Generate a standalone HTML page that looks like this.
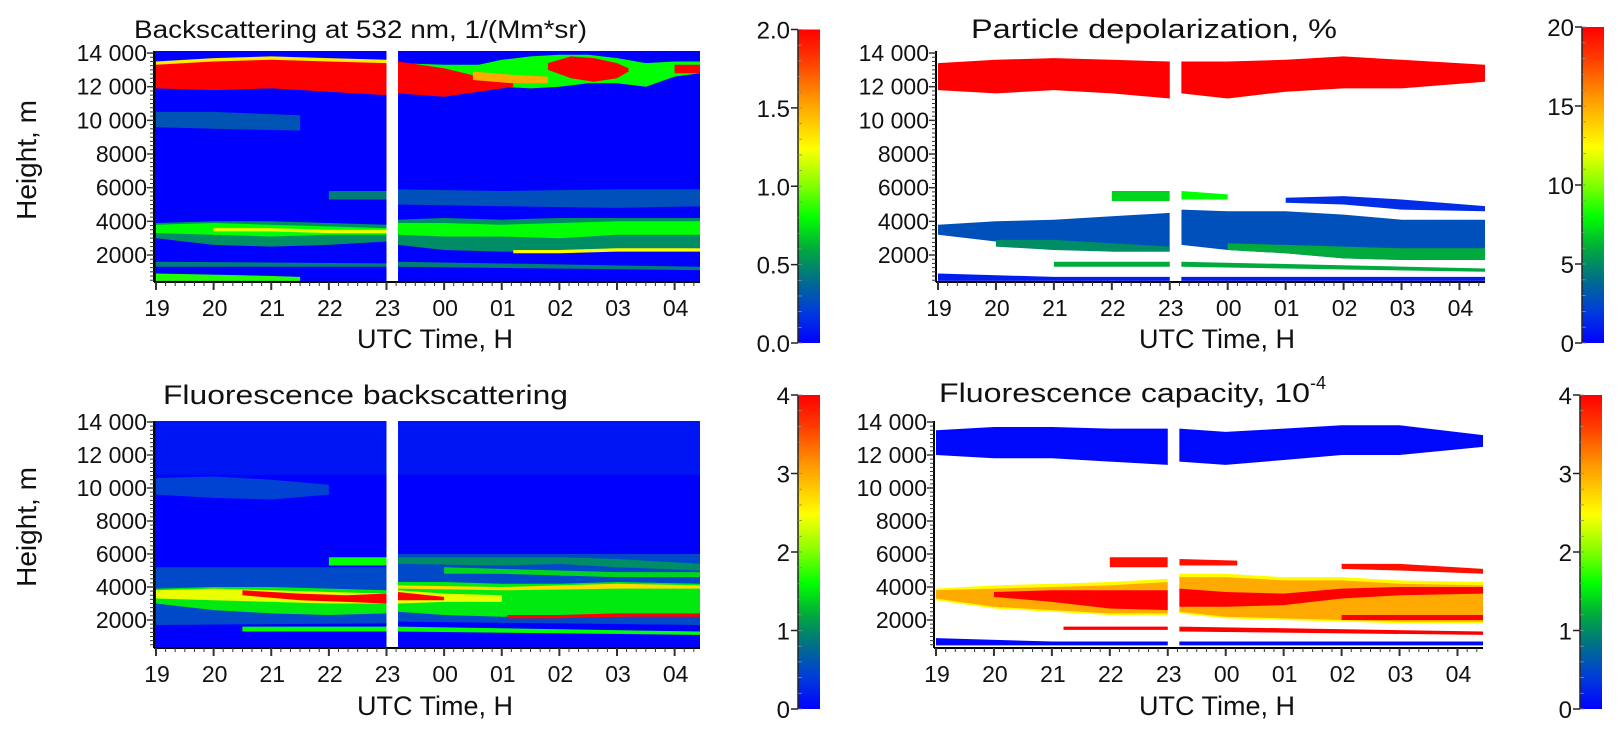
<!DOCTYPE html>
<html><head><meta charset="utf-8"><title>Lidar panels</title>
<style>
html,body{margin:0;padding:0;background:#fff;}
svg{display:block;font-family:"Liberation Sans",Arial,sans-serif;}
text{fill:#111;}
</style></head>
<body>
<svg id="fig" width="1619" height="737" viewBox="0 0 1619 737" xmlns="http://www.w3.org/2000/svg">
<defs id="defs"></defs>
<g id="root"></g>
<text x="134" y="38" font-size="25" textLength="453" lengthAdjust="spacingAndGlyphs">Backscattering at 532 nm, 1/(Mm*sr)</text>
<text x="971" y="38" font-size="27" textLength="366" lengthAdjust="spacingAndGlyphs">Particle depolarization, %</text>
<text x="163" y="404" font-size="27" textLength="405" lengthAdjust="spacingAndGlyphs">Fluorescence backscattering</text>
<text x="939" y="402" font-size="27"><tspan textLength="371" lengthAdjust="spacingAndGlyphs">Fluorescence capacity, 10</tspan><tspan font-size="18" dy="-13">-4</tspan></text>
<text transform="translate(36,160) rotate(-90)" text-anchor="middle" font-size="28">Height, m</text>
<text transform="translate(36,527) rotate(-90)" text-anchor="middle" font-size="28">Height, m</text>
<text x="435" y="348" text-anchor="middle" font-size="27">UTC Time, H</text>
<text x="1217" y="348" text-anchor="middle" font-size="27">UTC Time, H</text>
<text x="435" y="715" text-anchor="middle" font-size="27">UTC Time, H</text>
<text x="1217" y="715" text-anchor="middle" font-size="27">UTC Time, H</text>
</svg>
<script>
// ---------- data ----------
const xTickLabels = ["19","20","21","22","23","00","01","02","03","04"];
const yTickValues = [2000,4000,6000,8000,10000,12000,14000];
const yTickLabels = ["2000","4000","6000","8000","10 000","12 000","14 000"];
const cbLabels1 = ["0.0","0.5","1.0","1.5","2.0"];
const cbValues1 = [0,0.5,1,1.5,2];
const cbLabels2 = ["0","5","10","15","20"];
const cbValues2 = [0,5,10,15,20];
const cbLabels34 = ["0","1","2","3","4"];
const cbValues34 = [0,1,2,3,4];
const gapStart = 4.0, gapEnd = 4.2; // hours after 19 UTC

// layers: time (h after 19 UTC), top/bottom height (km), value
const backscatterLayers = [
 {t:[0,1,2.5],hi:[10.5,10.5,10.3],lo:[9.6,9.5,9.4],v:0.3},
 {t:[4.2,5,5.6,6,6.5,7,7.5,8,8.5,9,9.45],hi:[13.4,13.3,13.3,13.6,13.8,13.9,13.9,13.7,13.4,13.5,13.5],lo:[12.6,12.2,12.0,12.0,11.9,12.0,12.2,12.2,12.0,12.6,12.8],v:0.8},
 {t:[0,1,2,3,4,4.2,5,5.6,6.2],hi:[13.4,13.6,13.7,13.6,13.5,13.5,13.1,12.6,12.3],lo:[11.9,11.8,11.9,11.7,11.5,11.6,11.4,11.7,12.0],v:2},
 {t:[0,1,2,3,4],hi:[13.5,13.7,13.8,13.7,13.6],lo:[13.3,13.5,13.6,13.5,13.4],v:1.3},
 {t:[6.8,7.2,7.6,8.0,8.2],hi:[13.4,13.8,13.7,13.4,13.1],lo:[13.0,12.5,12.3,12.5,12.9],v:2},
 {t:[5.5,6.2,6.8],hi:[12.9,12.7,12.6],lo:[12.4,12.2,12.2],v:1.5},
 {t:[9.0,9.45],hi:[13.3,13.3],lo:[12.8,12.8],v:2},
 {t:[3.0,4.0],hi:[5.8,5.8],lo:[5.3,5.3],v:0.45},
 {t:[4.2,6,8,9.45],hi:[5.9,5.8,5.9,5.9],lo:[5.0,4.9,4.8,4.9],v:0.28},
 {t:[0,1,2,3,4,4.2,5,6,7,8,9.45],hi:[3.9,4.0,4.0,3.9,3.8,4.1,4.2,4.1,4.2,4.2,4.2],lo:[3.0,2.6,2.5,2.6,2.8,2.6,2.3,2.2,2.2,2.3,2.4],v:0.5},
 {t:[0,1,2,3,4,4.2,5,6,7,8,9.45],hi:[3.8,3.9,3.8,3.7,3.6,3.9,3.9,3.8,3.9,4.0,4.0],lo:[3.3,3.2,3.1,3.2,3.2,3.2,3.1,3.1,3.0,3.2,3.2],v:0.8},
 {t:[1,2,3,4],hi:[3.6,3.6,3.5,3.5],lo:[3.4,3.4,3.3,3.3],v:1.2},
 {t:[6.2,7,8,9.45],hi:[2.3,2.3,2.4,2.4],lo:[2.1,2.1,2.2,2.2],v:1.25},
 {t:[0,4,4.2,9.45],hi:[1.6,1.5,1.6,1.3],lo:[1.3,1.3,1.3,1.1],v:0.45},
 {t:[0,1.5,2.5],hi:[0.9,0.8,0.7],lo:[0.46,0.46,0.46],v:0.85}
];
const depolLayers = [
 {t:[0,1,2,3,4,4.2,5,6,7,8,9.45],hi:[13.4,13.6,13.7,13.6,13.5,13.5,13.5,13.6,13.8,13.6,13.3],lo:[11.8,11.6,11.8,11.6,11.3,11.6,11.3,11.7,11.9,11.9,12.3],v:20},
 {t:[3.0,4.0],hi:[5.8,5.8],lo:[5.2,5.2],v:7},
 {t:[4.2,5.0],hi:[5.8,5.6],lo:[5.3,5.3],v:8},
 {t:[6.0,7.0,8.0,9.45],hi:[5.4,5.5,5.3,4.9],lo:[5.1,5.0,4.7,4.6],v:1.5},
 {t:[0,1,2,3,4],hi:[3.8,4.0,4.1,4.3,4.5],lo:[3.2,2.8,2.5,2.2,2.2],v:2.8},
 {t:[1,2,3,4],hi:[2.9,2.9,2.7,2.5],lo:[2.5,2.3,2.2,2.2],v:5},
 {t:[4.2,5,6,7,8,9.45],hi:[4.7,4.6,4.6,4.4,4.1,4.1],lo:[2.6,2.3,2.1,1.8,1.7,1.7],v:2.8},
 {t:[5,6,7,8,9.45],hi:[2.7,2.6,2.5,2.4,2.4],lo:[2.3,2.1,1.8,1.7,1.7],v:6},
 {t:[2,4,4.2,9.45],hi:[1.6,1.6,1.6,1.2],lo:[1.3,1.3,1.3,1.0],v:6},
 {t:[0,2,4,4.2,9.45],hi:[0.9,0.7,0.7,0.7,0.7],lo:[0.46,0.46,0.46,0.46,0.46],v:1}
];
const fluoBackLayers = [
 {t:[0,9.45],hi:[14.1,14.1],lo:[10.8,10.8],v:0.14},
 {t:[0,1,2,3],hi:[10.6,10.7,10.5,10.2],lo:[9.6,9.4,9.3,9.6],v:0.45},
 {t:[0,4,4.2,9.45],hi:[5.2,5.2,6.0,6.0],lo:[1.7,1.8,1.9,1.7],v:0.5},
 {t:[3.0,4.0],hi:[5.8,5.8],lo:[5.3,5.3],v:1.6},
 {t:[4.2,6,7,8,9.45],hi:[5.8,5.8,5.8,5.7,5.4],lo:[5.4,5.3,5.4,5.2,5.0],v:1.0},
 {t:[5,6,7,8,9.45],hi:[5.2,5.1,5.0,4.9,4.9],lo:[4.8,4.8,4.7,4.6,4.6],v:1.4},
 {t:[0,1,2,3,4,4.2,5,6,7,8,9.45],hi:[3.9,4.0,4.0,3.9,3.8,4.3,4.3,4.2,4.2,4.3,4.2],lo:[3.0,2.6,2.4,2.3,2.4,2.5,2.3,2.2,2.2,2.2,2.3],v:1.5},
 {t:[0,1,2,3,4,4.2,5,6],hi:[3.8,3.9,3.8,3.7,3.6,3.8,3.6,3.5],lo:[3.3,3.2,3.1,3.0,3.0,3.0,3.1,3.1],v:2.4},
 {t:[1.5,2.5,3.3,4.0,4.2,5.0],hi:[3.8,3.6,3.5,3.6,3.7,3.4],lo:[3.5,3.2,3.1,3.0,3.2,3.2],v:4},
 {t:[4.2,6,8,9.45],hi:[4.1,4.0,4.2,4.1],lo:[3.9,3.8,3.9,3.9],v:2.7},
 {t:[6.1,7,8,9.45],hi:[2.3,2.3,2.4,2.4],lo:[2.1,2.1,2.2,2.2],v:4},
 {t:[1.5,4,4.2,9.45],hi:[1.6,1.6,1.6,1.3],lo:[1.3,1.3,1.3,1.1],v:1.6}
];
const fluoCapLayers = [
 {t:[0,1,2,3,4,4.2,5,6,7,8,9.45],hi:[13.5,13.7,13.7,13.6,13.6,13.6,13.4,13.6,13.8,13.8,13.2],lo:[12.0,11.8,11.8,11.6,11.4,11.6,11.4,11.7,12.0,12.0,12.5],v:0.05},
 {t:[3.0,4.0],hi:[5.8,5.8],lo:[5.2,5.2],v:3.9},
 {t:[4.2,5.2],hi:[5.7,5.6],lo:[5.3,5.3],v:3.9},
 {t:[7.0,8.0,9.45],hi:[5.4,5.4,5.1],lo:[5.1,5.0,4.8],v:3.9},
 {t:[0,1,2,3,4,4.2,5,6,7,8,9.45],hi:[3.9,4.1,4.2,4.3,4.5,4.8,4.8,4.6,4.6,4.4,4.3],lo:[3.2,2.7,2.5,2.3,2.3,2.4,2.1,2.0,1.9,1.8,1.8],v:2.5},
 {t:[0,1,2,3,4,4.2,5,6,7,8,9.45],hi:[3.8,3.9,4.0,4.1,4.3,4.6,4.6,4.4,4.4,4.2,4.1],lo:[3.3,2.8,2.6,2.4,2.4,2.5,2.2,2.1,2.0,1.9,1.9],v:3.0},
 {t:[1,2,3,4,4.2,5,6,7,8,9.45],hi:[3.7,3.8,3.8,3.8,3.9,3.7,3.6,3.9,4.0,4.0],lo:[3.4,3.1,2.7,2.6,2.8,2.8,2.9,3.3,3.5,3.6],v:4},
 {t:[7,8,9.45],hi:[2.3,2.3,2.3],lo:[2.0,2.0,2.0],v:4},
 {t:[2.2,4,4.2,9.45],hi:[1.6,1.6,1.6,1.3],lo:[1.4,1.4,1.3,1.1],v:4},
 {t:[0,2,4,4.2,9.45],hi:[0.9,0.7,0.7,0.7,0.7],lo:[0.46,0.46,0.46,0.46,0.46],v:0.05}
];

// ---------- rendering ----------
const NS = "http://www.w3.org/2000/svg";
const root = document.getElementById("root");
const defs = document.getElementById("defs");
const cstops = [[0,0,0,255],[0.1,0,60,220],[0.2,0,110,140],[0.3,0,170,60],[0.4,0,255,0],[0.5,130,255,0],[0.62,255,255,0],[0.78,255,150,0],[0.9,255,60,0],[1,255,0,0]];
function cmap(f){
  f=Math.max(0,Math.min(1,f));
  for(let i=1;i<cstops.length;i++){
    if(f<=cstops[i][0]){
      const a=cstops[i-1],b=cstops[i],k=(f-a[0])/(b[0]-a[0]);
      return `rgb(${Math.round(a[1]+(b[1]-a[1])*k)},${Math.round(a[2]+(b[2]-a[2])*k)},${Math.round(a[3]+(b[3]-a[3])*k)})`;
    }
  }
  return "rgb(255,0,0)";
}
function mk(tag,attrs,parent){
  const e=document.createElementNS(NS,tag);
  for(const k in attrs) e.setAttribute(k,attrs[k]);
  (parent||root).appendChild(e);
  return e;
}
const grad=mk("linearGradient",{id:"cbgrad",x1:"0",y1:"1",x2:"0",y2:"0"},defs);
cstops.forEach(s=>mk("stop",{offset:s[0],"stop-color":cmap(s[0])},grad));

const panels=[
 {name:"backscattering",left:154,right:700,top:51,bottom:281,y2k:255,pxkm:16.83,bg:"#0000ff",layers:backscatterLayers,vmax:2,cb:{x:798,top:29.5,bottom:343,labels:cbLabels1,values:cbValues1,minor:0.1}},
 {name:"depolarization",left:936,right:1485,top:51,bottom:281,y2k:255,pxkm:16.83,bg:"#ffffff",layers:depolLayers,vmax:20,cb:{x:1582,top:27,bottom:343,labels:cbLabels2,values:cbValues2,minor:1}},
 {name:"fluorescence-backscattering",left:154,right:700,top:421,bottom:647,y2k:620,pxkm:16.5,bg:"#0000ff",layers:fluoBackLayers,vmax:4,cb:{x:798,top:395,bottom:709,labels:cbLabels34,values:cbValues34,minor:0.2}},
 {name:"fluorescence-capacity",left:934,right:1483,top:421,bottom:647,y2k:620,pxkm:16.5,bg:"#ffffff",layers:fluoCapLayers,vmax:4,cb:{x:1580,top:395,bottom:709,labels:cbLabels34,values:cbValues34,minor:0.2}}
];

panels.forEach((p,pi)=>{
  const x0=p.left+2;
  const pxh=(p.right-p.left)/9.475;
  const xs=t=>x0+t*pxh;
  const ys=km=>p.y2k-(km-2)*p.pxkm;
  const g=mk("g",{});
  
  
  const cp=mk("clipPath",{id:"clip"+pi},defs);
  mk("rect",{x:p.left,y:p.top,width:p.right-p.left,height:p.bottom-p.top},cp);
  const bg=mk("rect",{x:p.left,y:p.top,width:p.right-p.left,height:p.bottom-p.top,fill:p.bg},g);
  
  
  const lg=mk("g",{"clip-path":`url(#clip${pi})`},g);
  p.layers.forEach((L,li)=>{
    let pts=[];
    for(let i=0;i<L.t.length;i++) pts.push(xs(L.t[i]).toFixed(1)+","+ys(L.hi[i]).toFixed(1));
    for(let i=L.t.length-1;i>=0;i--) pts.push(xs(L.t[i]).toFixed(1)+","+ys(L.lo[i]).toFixed(1));
    const poly=mk("polygon",{points:pts.join(" "),fill:cmap(L.v/p.vmax)},lg);
    
    
  });
  const gap=mk("rect",{x:xs(gapStart),y:p.top-1,width:xs(gapEnd)-xs(gapStart),height:p.bottom-p.top+1,fill:"#fff"},g);
  
  
  mk("line",{x1:p.left,y1:p.top,x2:p.left,y2:p.bottom+1,stroke:"#000","stroke-width":2},g);
  mk("line",{x1:p.left,y1:p.bottom+1,x2:p.right,y2:p.bottom+1,stroke:"#000","stroke-width":2},g);
  for(let m=500;m<=14000;m+=250){
    const y=ys(m/1000); if(y<p.top-1||y>p.bottom) continue;
    const major=m%2000===0;
    mk("line",{x1:p.left-(major?7:4),y1:y,x2:p.left,y2:y,stroke:"#333","stroke-width":major?1.5:1},g);
  }
  yTickValues.forEach((v,i)=>{
    const tx=mk("text",{x:p.left-7,y:ys(v/1000)+8,"text-anchor":"end","font-size":23},g);
    tx.textContent=yTickLabels[i];
    
    
  });
  for(let k=0;k<=56;k++){
    const t=k/6; const x=xs(t); if(x>p.right) break;
    const major=k%6===0;
    mk("line",{x1:x,y1:p.bottom+1,x2:x,y2:p.bottom+(major?9:5),stroke:"#333","stroke-width":major?2:1},g);
  }
  xTickLabels.forEach((lab,i)=>{
    const tx=mk("text",{x:xs(i)+1,y:p.bottom+35,"text-anchor":"middle","font-size":23},g);
    tx.textContent=lab;
    
    
  });
  const c=p.cb, cmax=c.values[c.values.length-1];
  const cby=v=>c.bottom-(v/cmax)*(c.bottom-c.top);
  const bar=mk("rect",{x:c.x,y:c.top,width:22,height:c.bottom-c.top,fill:"url(#cbgrad)"},g);
  
  
  mk("line",{x1:c.x,y1:c.top,x2:c.x,y2:c.bottom,stroke:"#222","stroke-width":1.5},g);
  for(let v=0;v<=cmax+1e-9;v+=c.minor){
    mk("line",{x1:c.x,y1:cby(v),x2:c.x+4,y2:cby(v),stroke:"#888","stroke-width":0.8},g);
  }
  c.values.forEach((v,i)=>{
    mk("line",{x1:c.x-7,y1:cby(v),x2:c.x,y2:cby(v),stroke:"#222","stroke-width":1.5},g);
    const tx=mk("text",{x:c.x-8,y:cby(v)+9,"text-anchor":"end","font-size":24},g);
    tx.textContent=c.labels[i];
    
    
  });
});
</script>
</body></html>
